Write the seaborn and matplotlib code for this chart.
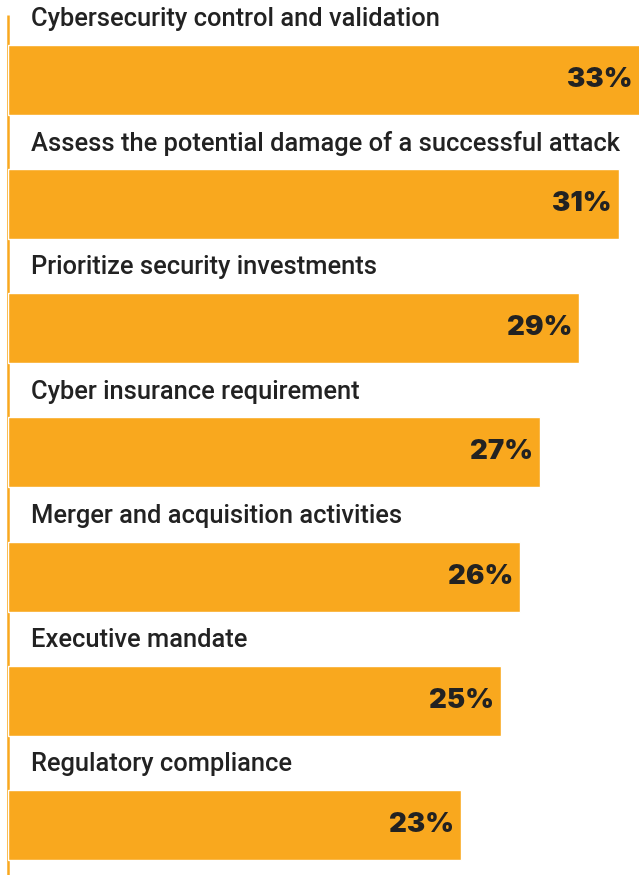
import matplotlib
matplotlib.use("Agg")
import matplotlib.pyplot as plt
import seaborn as sns
import pandas as pd

categories = [
    "Cybersecurity control and validation",
    "Assess the potential damage of a successful attack",
    "Prioritize security investments",
    "Cyber insurance requirement",
    "Merger and acquisition activities",
    "Executive mandate",
    "Regulatory compliance",
]
values = [33, 31, 29, 27, 26, 25, 23]
value_labels = ["33%", "31%", "29%", "27%", "26%", "25%", "23%"]

BAR_COLOR = "#F9A81E"
TEXT_COLOR = "#222222"

sns.set_theme(style="white")
plt.rcParams["font.family"] = ["Roboto", "DejaVu Sans"]

df = pd.DataFrame({"reason": categories, "share": values})

W, H = 639, 875
fig = plt.figure(figsize=(W / 100, H / 100), dpi=100)
left_px = 8
ax = fig.add_axes([left_px / W, 0, (W - left_px) / W, 1])

sns.barplot(data=df, y="reason", x="share", orient="h", color=BAR_COLOR,
            saturation=1, width=0.564, ax=ax)

px_per_unit = 19.7
xmax = (W - left_px) / px_per_unit
ax.set_xlim(0, xmax)
ax.set_ylim(6.403, -0.644)

for s in ax.spines.values():
    s.set_visible(False)
ax.set_xticks([])
ax.set_yticks([])
ax.set_xlabel("")
ax.set_ylabel("")

# thin axis rule along the left edge
ax.plot([0, 0], [-0.523, 6.403], color=BAR_COLOR, lw=1.8, clip_on=False,
        zorder=0, solid_capstyle="butt")

for i, (cat, val, lab) in enumerate(zip(categories, values, value_labels)):
    ax.annotate(cat, xy=(0, i - 0.49), xytext=(16.5, 0), textcoords="offset points",
                ha="left", va="center", fontsize=18.4, fontweight="medium",
                color=TEXT_COLOR)
    ax.annotate(lab, xy=(min(val, xmax), i), xytext=(-5, 0),
                textcoords="offset points", ha="right", va="center",
                fontsize=19.8, fontweight="black", color=TEXT_COLOR,
                family=["Inter", "DejaVu Sans"])

fig.savefig("out.png", dpi=100)
